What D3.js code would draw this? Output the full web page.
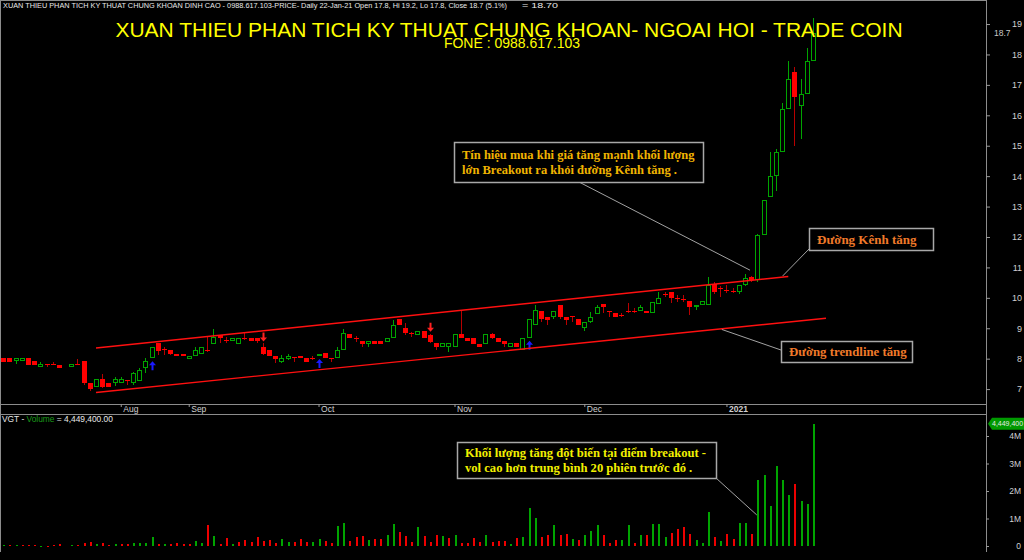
<!DOCTYPE html>
<html>
<head>
<meta charset="utf-8">
<script src="https://cdn.jsdelivr.net/npm/d3@7"></script>
<style>
body { margin: 0; background: #000; }
svg { display: block; }
</style>
</head>
<body>
<svg id="chart" width="1024" height="560"></svg>
<script>
// daily prices, VGT, from early Jul 2020 to 22-Jan-21
var openPrices = [
	8.01, 8.01, 7.91, 7.91, 8.01, 7.91, 7.71, 7.83, 7.83, 7.80,
	7.75, 7.71, 7.83, 7.91, 7.19, 7.08, 7.32, 7.19, 7.19, 7.19,
	7.30, 7.19, 7.27, 7.68, 8.01, 8.50, 8.31, 8.28, 8.17, 8.17,
	8.00, 8.09, 8.17, 8.29, 8.48, 8.77, 8.62, 8.58, 8.48, 8.67,
	8.69, 8.69, 8.39, 8.28, 8.09, 7.90, 8.00, 8.04, 8.09, 8.01,
	8.01, 8.09, 8.19, 8.01, 8.01, 8.28, 8.80, 8.69, 8.59, 8.48,
	8.59, 8.59, 8.56, 8.69, 9.29, 9.00, 8.83, 8.78, 8.91, 8.78,
	8.50, 8.37, 8.37, 8.37, 8.80, 8.69, 8.69, 8.48, 8.48, 8.80,
	8.69, 8.59, 8.39, 8.50, 8.28, 8.69, 9.10, 9.58, 9.38, 9.38,
	9.76, 9.38, 9.39, 9.29, 9.00, 9.19, 9.47, 9.80, 9.58, 9.49,
	9.44, 9.58, 9.58, 9.58, 9.58, 9.49, 9.80, 10.12, 10.20, 9.98,
	9.95, 9.89, 9.69, 9.78, 9.78, 10.47, 10.31, 10.26, 10.24, 10.20,
	10.42, 10.69, 10.58, 12.08, 13.30, 14.00, 14.80, 16.20, 17.42, 16.30,
	16.70, 17.80
];
var highPrices = [
	8.01, 8.01, 8.01, 8.01, 8.01, 7.91, 7.90, 7.83, 7.90, 7.80,
	7.75, 7.82, 7.98, 7.91, 7.19, 7.32, 7.50, 7.19, 7.39, 7.39,
	7.30, 7.57, 7.70, 8.01, 8.37, 8.50, 8.39, 8.28, 8.17, 8.17,
	8.08, 8.37, 8.39, 8.72, 8.96, 8.77, 8.70, 8.69, 8.69, 8.83,
	8.69, 8.69, 8.50, 8.28, 8.09, 8.12, 8.17, 8.04, 8.09, 8.01,
	8.09, 8.17, 8.19, 8.01, 8.37, 8.96, 8.80, 8.76, 8.59, 8.59,
	8.59, 8.59, 8.69, 9.27, 9.29, 9.16, 8.88, 8.91, 8.91, 8.82,
	8.50, 8.50, 8.50, 8.80, 9.58, 8.69, 8.69, 8.48, 8.80, 8.85,
	8.69, 8.59, 8.50, 8.50, 8.69, 9.29, 9.77, 9.58, 9.38, 9.58,
	9.76, 9.38, 9.39, 9.29, 9.19, 9.54, 9.76, 9.80, 9.58, 9.49,
	9.49, 9.84, 9.65, 9.76, 9.58, 9.87, 10.20, 10.20, 10.20, 10.09,
	10.09, 9.89, 9.78, 9.89, 10.67, 10.53, 10.39, 10.42, 10.31, 10.42,
	10.78, 10.71, 12.10, 13.20, 14.78, 14.89, 16.39, 17.80, 17.60, 17.19,
	18.20, 19.20
];
var lowPrices = [
	7.90, 7.90, 7.83, 7.91, 7.80, 7.80, 7.71, 7.71, 7.79, 7.70,
	7.75, 7.71, 7.79, 7.15, 6.95, 7.08, 7.02, 7.06, 7.10, 7.19,
	7.13, 7.14, 7.27, 7.52, 8.01, 8.12, 8.12, 8.12, 8.09, 8.09,
	8.00, 8.09, 8.17, 8.23, 8.48, 8.50, 8.52, 8.58, 8.48, 8.60,
	8.59, 8.50, 8.12, 8.09, 7.85, 7.85, 7.95, 7.90, 8.01, 7.90,
	7.95, 8.09, 8.01, 7.90, 8.01, 8.28, 8.69, 8.56, 8.39, 8.39,
	8.48, 8.48, 8.56, 8.69, 9.10, 8.78, 8.72, 8.78, 8.69, 8.50,
	8.30, 8.37, 8.23, 8.37, 8.69, 8.59, 8.48, 8.37, 8.48, 8.64,
	8.56, 8.39, 8.39, 8.37, 8.28, 8.69, 9.10, 9.22, 9.10, 9.32,
	9.29, 9.10, 9.19, 9.10, 8.91, 9.16, 9.47, 9.49, 9.38, 9.38,
	9.38, 9.49, 9.49, 9.58, 9.49, 9.49, 9.80, 10.03, 9.82, 9.87,
	9.87, 9.43, 9.60, 9.78, 9.78, 10.14, 10.02, 10.15, 10.15, 10.12,
	10.39, 10.53, 10.53, 12.08, 13.30, 13.52, 14.80, 16.20, 15.00, 15.21,
	16.70, 17.80
];
var closePrices = [
	7.90, 7.90, 8.01, 8.01, 7.80, 7.80, 7.82, 7.82, 7.82, 7.70,
	7.75, 7.82, 7.82, 7.19, 6.99, 7.32, 7.06, 7.06, 7.32, 7.32,
	7.28, 7.52, 7.63, 7.92, 8.37, 8.26, 8.29, 8.17, 8.09, 8.09,
	8.08, 8.28, 8.39, 8.28, 8.70, 8.67, 8.61, 8.69, 8.69, 8.66,
	8.59, 8.58, 8.17, 8.09, 8.00, 8.01, 8.09, 8.03, 8.01, 7.90,
	8.00, 8.17, 8.01, 8.00, 8.28, 8.83, 8.69, 8.68, 8.48, 8.59,
	8.48, 8.48, 8.69, 9.10, 9.10, 8.86, 8.82, 8.91, 8.69, 8.56,
	8.39, 8.50, 8.50, 8.80, 8.69, 8.59, 8.48, 8.37, 8.80, 8.69,
	8.56, 8.48, 8.50, 8.37, 8.69, 9.29, 9.60, 9.29, 9.27, 9.58,
	9.38, 9.27, 9.38, 9.10, 9.19, 9.38, 9.69, 9.69, 9.57, 9.38,
	9.43, 9.57, 9.57, 9.69, 9.49, 9.87, 10.01, 10.11, 9.98, 9.97,
	9.94, 9.69, 9.78, 9.89, 10.42, 10.20, 10.30, 10.25, 10.23, 10.42,
	10.64, 10.58, 12.08, 13.20, 14.00, 14.80, 16.20, 17.20, 16.59, 16.70,
	17.80, 18.70
];
// volume in millions of shares
var volumes = [
	0.02, 0.04, 0.05, 0.04, 0.02, 0.02, 0.005, 0.005, 0.04, 0.06,
	0, 0.04, 0.05, 0.12, 0.16, 0.07, 0.12, 0.05, 0.07, 0.07,
	0.07, 0.10, 0.10, 0.10, 0.34, 0.07, 0.07, 0.07, 0.10, 0.07,
	0.07, 0.17, 0.12, 0.75, 0.36, 0.06, 0.30, 0.06, 0.16, 0.22,
	0.16, 0.34, 0.20, 0.23, 0.10, 0.24, 0.13, 0.13, 0.24, 0.15,
	0.15, 0.24, 0.17, 0.10, 0.73, 0.85, 0.18, 0.33, 0.35, 0.23,
	0.24, 0.25, 0.40, 0.79, 0.51, 0.36, 0.16, 0.70, 0.36, 0.15,
	0.39, 0.36, 0.28, 0.39, 0.10, 0.12, 0.28, 0.16, 0.40, 0.16,
	0.17, 0.18, 0.06, 0.29, 0.34, 1.38, 1.02, 0.32, 0.40, 0.76,
	0.40, 0.44, 0.25, 0.22, 0.39, 0.56, 0.75, 0.40, 0.12, 0.22,
	0.22, 0.75, 0.12, 0.40, 0.40, 0.79, 0.80, 0.34, 0.46, 0.62,
	0.70, 0.44, 0.22, 0.12, 1.24, 0.33, 0.17, 0.45, 0.27, 0.84,
	0.84, 0.45, 2.40, 2.58, 1.45, 2.92, 2.40, 1.85, 2.25, 1.64,
	1.53, 4.4494
];

var monthLabels = ["Aug", "Sep", "Oct", "Nov", "Dec", "2021"];
var monthStartIndex = [19, 30, 51, 73, 94, 117];
var priceTicks = [7, 8, 9, 10, 11, 12, 13, 14, 15, 16, 17, 18, 19];
var volumeTicks = [0, 1, 2, 3, 4];

var buySignals = [24, 51, 85];
var sellSignals = [42, 69];

// hand drawn lines: [bar index, price]
var channelUpper = [[15, 8.35], [127, 10.70]];
var channelLower = [[15, 6.89], [133.1, 9.33]];

var Chart = {
	width: 1024,
	height: 560,
	axisX: 986,
	pricePane: { top: 0, bottom: 404 },
	volumePane: { top: 414, bottom: 552 },
	colors: { up: "#00a400", down: "#ff0000", downWick: "#b80000", frame: "#8c8c8c", label: "#d0d0d0" },

	svg: null,
	x: null,
	yPrice: null,
	yVol: null,
	bars: [],

	init: function() {
		var self = this;

		self.svg = d3.select("#chart");
		self.x = d3.scaleLinear().domain([0, 131]).range([3.3, 813]);
		self.yPrice = d3.scaleLinear().domain([6.51, 19.79]).range([self.pricePane.bottom, self.pricePane.top]);
		self.yVol = d3.scaleLinear().domain([0, 4]).range([546, 436]);

		for (var i = 0; i < closePrices.length; i++)
			self.bars.push({
				i: i, o: openPrices[i], h: highPrices[i], l: lowPrices[i], c: closePrices[i], v: volumes[i],
				up: i > 0 ? closePrices[i] > closePrices[i - 1] : true
			});

		self.svg.append("rect")
			.attr("width", self.width)
			.attr("height", self.height)
			.style("fill", "#000");

		var defs = self.svg.append("defs");
		defs.append("clipPath").attr("id", "price-clip")
			.append("rect").attr("x", 1).attr("y", 1).attr("width", self.axisX - 1).attr("height", self.pricePane.bottom - 1);
		defs.append("clipPath").attr("id", "volume-clip")
			.append("rect").attr("x", 1).attr("y", self.volumePane.top).attr("width", self.axisX - 1).attr("height", self.volumePane.bottom - self.volumePane.top);

		self.drawFrame();
		self.drawCandles();
		self.drawSignals();
		self.drawChannel();
		self.drawVolume();
		self.drawAxes();
		self.drawTitles();
		self.drawNotes();
	},
	drawFrame: function() {
		var self = this;
		var frame = self.svg.append("g")
			.style("stroke", self.colors.frame)
			.style("shape-rendering", "crispEdges");

		frame.append("line").attr("x1", 0.5).attr("x2", 0.5).attr("y1", 0).attr("y2", self.volumePane.bottom);
		frame.append("line").attr("x1", 0).attr("x2", self.axisX).attr("y1", 0.5).attr("y2", 0.5);
		frame.append("line").attr("x1", self.axisX + 0.5).attr("x2", self.axisX + 0.5).attr("y1", 0).attr("y2", self.volumePane.bottom);
		frame.append("line").attr("x1", 0).attr("x2", self.axisX).attr("y1", 404.5).attr("y2", 404.5);
		frame.append("line").attr("x1", 0).attr("x2", self.axisX).attr("y1", 414.5).attr("y2", 414.5);
	},
	drawCandles: function() {
		var self = this;
		var g = self.svg.append("g")
			.attr("clip-path", "url(#price-clip)")
			.style("shape-rendering", "crispEdges");

		var candle = g.selectAll(".candle")
			.data(self.bars.filter(function(d) { return d.h != d.l; }))
			.enter()
			.append("g")
			.attr("class", "candle");

		candle.append("line") // wick
			.attr("x1", function(d) { return Math.round(self.x(d.i)) + 0.5; })
			.attr("x2", function(d) { return Math.round(self.x(d.i)) + 0.5; })
			.attr("y1", function(d) { return self.yPrice(d.h); })
			.attr("y2", function(d) { return self.yPrice(d.l); })
			.style("stroke", function(d) { return d.c > d.o ? self.colors.up : self.colors.downWick; });

		candle.each(function(d) {
			var cx = Math.round(self.x(d.i));
			if (d.c > d.o) {
				var top = Math.round(self.yPrice(d.c));
				d3.select(this).append("rect")
					.attr("x", cx - 1.5)
					.attr("y", top + 0.5)
					.attr("width", 4)
					.attr("height", Math.max(Math.round(self.yPrice(d.o)) - top - 1, 1))
					.style("fill", "#000")
					.style("stroke", self.colors.up);
			}
			else {
				var top = Math.round(self.yPrice(d.o));
				d3.select(this).append("rect")
					.attr("x", cx - 2)
					.attr("y", top)
					.attr("width", 5)
					.attr("height", Math.max(Math.round(self.yPrice(d.c)) - top, 1))
					.style("fill", self.colors.down);
			}
		});
	},
	drawSignals: function() {
		var self = this;
		var g = self.svg.append("g");

		g.selectAll(".buy")
			.data(buySignals)
			.enter()
			.append("path")
			.attr("class", "buy")
			.attr("d", function(i) {
				var cx = Math.round(self.x(i)) + 0.5;
				var top = self.yPrice(lowPrices[i]) + 3;
				return "M" + cx + "," + top + "L" + (cx + 3.5) + "," + (top + 4) + "H" + (cx + 1) + "V" + (top + 9)
					+ "H" + (cx - 1) + "V" + (top + 4) + "H" + (cx - 3.5) + "Z";
			})
			.style("fill", "#1a1aff");

		g.selectAll(".sell")
			.data(sellSignals)
			.enter()
			.append("path")
			.attr("class", "sell")
			.attr("d", function(i) {
				var cx = Math.round(self.x(i)) + 0.5;
				var bottom = self.yPrice(highPrices[i]) - 2;
				return "M" + cx + "," + bottom + "L" + (cx + 3.5) + "," + (bottom - 4) + "H" + (cx + 1) + "V" + (bottom - 9)
					+ "H" + (cx - 1) + "V" + (bottom - 4) + "H" + (cx - 3.5) + "Z";
			})
			.style("fill", "#ff2020");
	},
	drawChannel: function() {
		var self = this;
		var line = d3.line()
			.x(function(d) { return self.x(d[0]); })
			.y(function(d) { return self.yPrice(d[1]); });

		self.svg.append("g")
			.attr("clip-path", "url(#price-clip)")
			.selectAll("path")
			.data([channelUpper, channelLower])
			.enter()
			.append("path")
			.attr("d", line)
			.style("fill", "none")
			.style("stroke", "#ff1010")
			.style("stroke-width", 1.4);
	},
	drawVolume: function() {
		var self = this;

		self.svg.append("g")
			.attr("clip-path", "url(#volume-clip)")
			.style("shape-rendering", "crispEdges")
			.selectAll("rect")
			.data(self.bars.filter(function(d) { return d.v > 0; }))
			.enter()
			.append("rect")
			.attr("x", function(d) { return Math.round(self.x(d.i)); })
			.attr("y", function(d) { return self.yVol(d.v); })
			.attr("width", 1.5)
			.attr("height", function(d) { return Math.max(self.yVol(0) - self.yVol(d.v), 1); })
			.style("fill", function(d) { return d.up ? self.colors.up : "#ee0000"; });

		// last volume tag
		var last = self.bars[self.bars.length - 1];
		var ty = self.yVol(last.v);
		self.svg.append("path")
			.attr("d", "M" + (self.axisX + 2) + "," + ty + "L" + (self.axisX + 6) + "," + (ty - 6) + "H1024V" + (ty + 6) + "H" + (self.axisX + 6) + "Z")
			.style("fill", "#009a00");
		self.svg.append("text")
			.attr("x", self.axisX + 6)
			.attr("y", ty + 2.5)
			.style("font-family", "Liberation Sans, Arial, sans-serif")
			.style("font-size", "7px")
			.style("fill", "#e8e8e8")
			.text(d3.format(",")(Math.round(last.v * 1e6)));
	},
	drawAxes: function() {
		var self = this;

		var priceAxis = d3.axisRight(self.yPrice)
			.tickValues(priceTicks)
			.tickSize(4)
			.tickFormat(d3.format("d"));
		var gPrice = self.svg.append("g")
			.attr("transform", "translate(" + self.axisX + ",0)")
			.attr("color", self.colors.label)
			.call(priceAxis);
		gPrice.select(".domain").remove();
		gPrice.selectAll("line").style("stroke", "#9a9a9a");
		gPrice.selectAll("text")
			.attr("x", 36)
			.attr("text-anchor", "end")
			.style("font-family", "Liberation Sans, Arial, sans-serif")
			.style("font-size", "9px");

		// last close label
		var last = self.bars[self.bars.length - 1];
		self.svg.append("text")
			.attr("x", self.axisX + 8)
			.attr("y", self.yPrice(last.c) + 3)
			.style("font-family", "Liberation Sans, Arial, sans-serif")
			.style("font-size", "8.5px")
			.style("fill", "#c8c8c8")
			.text(d3.format(".1f")(last.c));

		var volumeAxis = d3.axisRight(self.yVol)
			.tickValues(volumeTicks)
			.tickSize(3)
			.tickFormat(function(d) { return d == 0 ? "0" : d + "M"; });
		var gVol = self.svg.append("g")
			.attr("transform", "translate(" + self.axisX + ",0)")
			.attr("color", self.colors.label)
			.call(volumeAxis);
		gVol.select(".domain").remove();
		gVol.selectAll("line").style("stroke", "#9a9a9a");
		gVol.selectAll("text")
			.attr("x", 35)
			.attr("text-anchor", "end")
			.style("font-family", "Liberation Sans, Arial, sans-serif")
			.style("font-size", "8.5px");

		var dateAxis = d3.axisBottom(self.x)
			.tickValues(monthStartIndex)
			.tickSize(3)
			.tickFormat(function(d, k) { return monthLabels[k]; });
		var gDate = self.svg.append("g")
			.attr("transform", "translate(0,404)")
			.attr("color", self.colors.label)
			.call(dateAxis);
		gDate.select(".domain").remove();
		gDate.selectAll("line").style("stroke", "#9a9a9a");
		gDate.selectAll("text")
			.attr("x", 2)
			.attr("y", 8)
			.attr("dy", 0)
			.attr("text-anchor", "start")
			.style("font-family", "Liberation Sans, Arial, sans-serif")
			.style("font-size", "8.5px")
			.style("font-weight", function(d, k) { return /^\d+$/.test(monthLabels[k]) ? "bold" : "normal"; });
	},
	drawTitles: function() {
		var self = this;
		var last = self.bars[self.bars.length - 1];
		var prev = self.bars[self.bars.length - 2];
		var f = d3.format(".1f");
		var change = (last.c / prev.c - 1) * 100;

		// small glyphs get rounded widths, so fix the run length
		self.svg.append("text")
			.attr("x", 3)
			.attr("y", 8)
			.attr("textLength", 504)
			.attr("lengthAdjust", "spacingAndGlyphs")
			.style("font-family", "Liberation Sans, Arial, sans-serif")
			.style("font-size", "7px")
			.style("fill", "#e8e8e8")
			.text("XUAN THIEU PHAN TICH KY THUAT CHUNG KHOAN DINH CAO - 0988.617.103-PRICE- Daily 22-Jan-21 Open " + f(last.o)
				+ ", Hi " + f(last.h) + ", Lo " + f(last.l) + ", Close " + f(last.c) + " (" + f(change) + "%)");
		self.svg.append("text")
			.attr("x", 522)
			.attr("y", 8)
			.attr("textLength", 36)
			.attr("lengthAdjust", "spacingAndGlyphs")
			.style("font-family", "Liberation Sans, Arial, sans-serif")
			.style("font-size", "7px")
			.style("fill", "#e8e8e8")
			.text("= " + d3.format(".2f")(last.c));

		self.svg.append("text")
			.attr("x", 509)
			.attr("y", 36.5)
			.attr("text-anchor", "middle")
			.style("font-family", "Liberation Sans, Arial, sans-serif")
			.style("font-size", "21px")
			.style("fill", "#ffff00")
			.text("XUAN THIEU PHAN TICH KY THUAT CHUNG KHOAN- NGOAI HOI - TRADE COIN");
		self.svg.append("text")
			.attr("x", 512)
			.attr("y", 48)
			.attr("text-anchor", "middle")
			.style("font-family", "Liberation Sans, Arial, sans-serif")
			.style("font-size", "14px")
			.style("fill", "#ffff00")
			.text("FONE : 0988.617.103");

		var vol = self.svg.append("text")
			.attr("x", 2)
			.attr("y", 422)
			.style("font-family", "Liberation Sans, Arial, sans-serif")
			.style("font-size", "8.4px")
			.style("fill", "#e8e8e8");
		vol.append("tspan").text("VGT - ");
		vol.append("tspan").style("fill", "#1a9a1a").text("Volume");
		vol.append("tspan").text(" = " + d3.format(",.2f")(Math.round(last.v * 1e6)));
	},
	drawNotes: function() {
		var self = this;
		var notes = [
			{ box: [454, 142, 249, 40], lines: ["Tín hiệu mua khi giá tăng mạnh khối lượng", "lớn Breakout ra khỏi đường Kênh tăng ."],
				color: "#f0b400", size: 12.5, from: [579, 182], to: [120.8, 10.91], pane: "price" },
			{ box: [809, 228, 124, 22], lines: ["Đường Kênh tăng"],
				color: "#f07a2a", size: 13, from: [809, 249], to: [126.1, 10.72], pane: "price" },
			{ box: [781, 341, 131, 21], lines: ["Đường trendline tăng"],
				color: "#f07a2a", size: 12.8, from: [781, 350], to: [116.25, 8.96], pane: "price" },
			{ box: [457, 442, 259, 36], lines: ["Khối lượng tăng đột biến tại điểm breakout -", "vol cao hơn trung bình 20 phiên trước đó ."],
				color: "#f2f000", size: 12.6, from: [716, 478], to: [121.9, 1.13], pane: "volume" }
		];

		var g = self.svg.append("g");
		notes.forEach(function(n) {
			var tx = self.x(n.to[0]);
			var ty = n.pane == "price" ? self.yPrice(n.to[1]) : self.yVol(n.to[1]);

			g.append("line")
				.attr("x1", n.from[0])
				.attr("y1", n.from[1])
				.attr("x2", tx)
				.attr("y2", ty)
				.style("stroke", "#b4b4b4")
				.style("stroke-width", 0.9);

			g.append("rect")
				.attr("x", n.box[0] + 0.5)
				.attr("y", n.box[1] + 0.5)
				.attr("width", n.box[2])
				.attr("height", n.box[3])
				.style("fill", "#000")
				.style("stroke", "#a8a8a8")
				.style("stroke-width", 1.5);

			var lineHeight = 15;
			var firstY = n.box[1] + n.box[3] / 2 - (n.lines.length - 1) * lineHeight / 2 + n.size * 0.35;
			n.lines.forEach(function(t, k) {
				g.append("text")
					.attr("x", n.box[0] + 8)
					.attr("y", firstY + k * lineHeight)
					.style("font-family", "Liberation Serif, Times New Roman, serif")
					.style("font-weight", "bold")
					.style("font-size", n.size + "px")
					.style("fill", n.color)
					.text(t);
			});
		});
	}
};

Chart.init();
</script>
</body>
</html>
